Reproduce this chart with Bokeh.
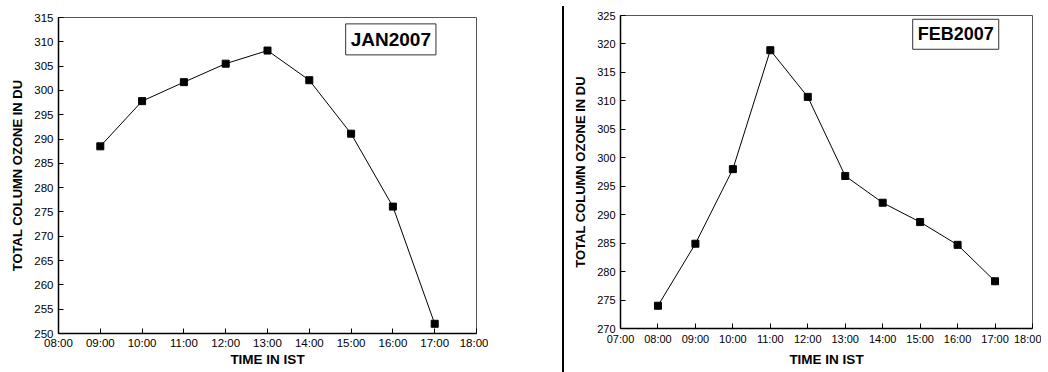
from bokeh.plotting import figure
from bokeh.layouts import row, column
from bokeh.models import Div, Spacer, FixedTicker, Label
from bokeh.embed import file_html
from bokeh.resources import INLINE

# Hourly total column ozone (Dobson units)
jan_times = ["09:00", "10:00", "11:00", "12:00", "13:00", "14:00", "15:00", "16:00", "17:00"]
jan_ozone = [288.5, 297.8, 301.7, 305.5, 308.2, 302.1, 291.1, 276.1, 252.0]

feb_times = ["08:00", "09:00", "10:00", "11:00", "12:00", "13:00", "14:00", "15:00", "16:00", "17:00"]
feb_ozone = [274.0, 284.9, 298.0, 318.9, 310.7, 296.8, 292.1, 288.7, 284.7, 278.3]

jan_xticks = ["08:00", "09:00", "10:00", "11:00", "12:00", "13:00", "14:00", "15:00", "16:00", "17:00", "18:00"]
feb_xticks = ["07:00", "08:00", "09:00", "10:00", "11:00", "12:00", "13:00", "14:00", "15:00", "16:00", "17:00", "18:00"]
jan_yticks = [250, 255, 260, 265, 270, 275, 280, 285, 290, 295, 300, 305, 310, 315]
feb_yticks = [270, 275, 280, 285, 290, 295, 300, 305, 310, 315, 320, 325]

FONT = "Liberation Sans"


def hours(t):
    h, m = t.split(":")
    return int(h) + int(m) / 60.0


def panel(times, ozone, xticks, yticks, tag, tag_x, tag_y, tag_size,
          width, height, borders, tick_size, standoffs, xlabel_size):
    tx = [hours(t) for t in xticks]
    left, right, top, bottom = borders
    p = figure(width=width, height=height,
               x_range=(tx[0], tx[-1]), y_range=(yticks[0], yticks[-1]),
               output_backend="svg", toolbar_location=None,
               min_border_left=left, min_border_right=right,
               min_border_top=top, min_border_bottom=bottom)
    p.background_fill_color = "white"
    p.border_fill_color = "white"
    p.outline_line_color = "#555555"
    p.outline_line_width = 1
    p.grid.visible = False

    xs = [hours(t) for t in times]
    p.line(xs, ozone, line_color="black", line_width=1)
    p.scatter(xs, ozone, marker="square", size=7, fill_color="black", line_color="black")

    p.xaxis.ticker = FixedTicker(ticks=tx)
    p.xaxis.major_label_overrides = {int(v): s for v, s in zip(tx, xticks)}
    p.yaxis.ticker = FixedTicker(ticks=yticks)

    for ax in (p.xaxis, p.yaxis):
        ax.axis_line_color = "black"
        ax.axis_line_width = 1.5
        ax.major_tick_line_color = "black"
        ax.major_tick_line_width = 1
        ax.major_tick_in = 5
        ax.major_tick_out = 0
        ax.minor_tick_line_color = None
        ax.major_label_text_font = FONT
        ax.major_label_text_font_size = tick_size
        ax.major_label_text_color = "black"
        ax.axis_label_text_font = FONT
        ax.axis_label_text_font_style = "bold"
        ax.axis_label_text_color = "black"

    p.yaxis.major_label_standoff = 5
    p.yaxis.axis_label = "TOTAL COLUMN OZONE IN DU"
    p.yaxis.axis_label_text_font_size = "13px"
    p.yaxis.axis_label_standoff = 6

    p.xaxis.major_label_standoff = standoffs[0]
    p.xaxis.axis_label = "TIME IN IST"
    p.xaxis.axis_label_text_font_size = xlabel_size
    p.xaxis.axis_label_standoff = standoffs[1]

    p.add_layout(Label(x=tag_x, y=tag_y, text=tag,
                       text_align="center", text_baseline="middle",
                       text_font=FONT, text_font_style="bold",
                       text_font_size=tag_size, text_color="black",
                       border_line_color="#333333", border_line_width=1,
                       background_fill_color="white", padding=5))
    return p


p_jan = panel(jan_times, jan_ozone, jan_xticks, jan_yticks, "JAN2007",
              15.95, 310.5, "19px", 488, 372, (58, 12, 17, 39), "11.5px",
              (3, 0), "13.5px")
p_feb = panel(feb_times, feb_ozone, feb_xticks, feb_yticks, "FEB2007",
              15.95, 321.7, "18px", 477, 372, (56, 9, 15, 44), "11px",
              (4, 4), "13.5px")

gap = Spacer(width=74, height=372)
divider = Div(text="", width=2, height=366, margin=(6, 0, 0, 0),
              styles={"background-color": "black"})

# each panel in its own column so the two frames are laid out independently
layout = row(column(p_jan), gap, divider, column(p_feb))

open("out.html", "w").write(file_html(layout, INLINE))
